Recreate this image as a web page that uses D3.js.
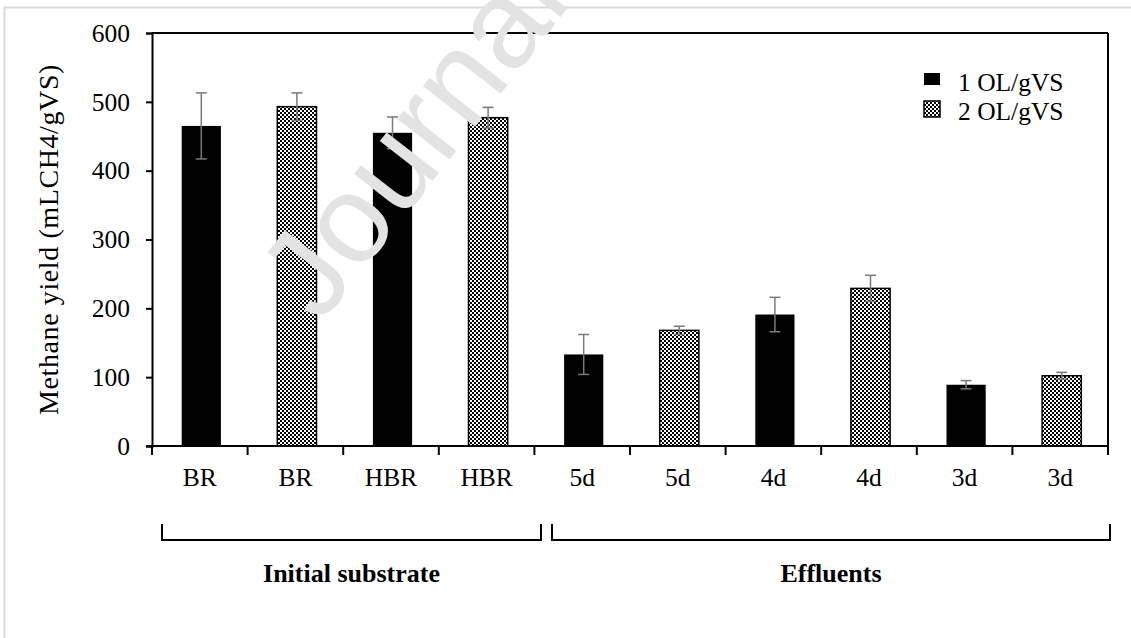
<!DOCTYPE html>
<html><head><meta charset="utf-8">
<script src="https://cdn.jsdelivr.net/npm/d3@7/dist/d3.min.js"></script>
<style>html,body{margin:0;padding:0;background:#fff;overflow:hidden}</style>
</head><body>
<svg id="c" width="1131" height="638"></svg>
<script>
const categories = ["BR","BR","HBR","HBR","5d","5d","4d","4d","3d","3d"];
const seriesOf = [0,1,0,1,0,1,0,1,0,1];
const seriesNames = ["1 OL/gVS","2 OL/gVS"];
const values = [465,493,455,477,133,168,191,229,89,102];
const errors = [48,20,23,15,29,6,25,19,6,5];
const yTicks = [0,100,200,300,400,500,600];
const groups = [{label:"Initial substrate", from:0, to:3},{label:"Effluents", from:4, to:9}];

const svg = d3.select("#c");
const m={l:152,r:1108,t:33,b:446};
const serif="'Liberation Serif','Times New Roman',serif";

// outer frame
svg.append("rect").attr("x",4.5).attr("y",7.5).attr("width",1200).attr("height",800)
  .attr("fill","#fff").attr("stroke","#d9d9d9").attr("stroke-width",2);

const defs=svg.append("defs");
const pat=defs.append("pattern").attr("id","chk").attr("patternUnits","userSpaceOnUse")
  .attr("width",4).attr("height",4);
pat.append("rect").attr("width",4).attr("height",4).attr("fill","#fff");
pat.append("rect").attr("width",2).attr("height",2).attr("fill","#000");
pat.append("rect").attr("x",2).attr("y",2).attr("width",2).attr("height",2).attr("fill","#000");

const x=d3.scaleBand().domain(d3.range(categories.length)).range([m.l,m.r]).padding(0);
const y=d3.scaleLinear().domain([0,600]).range([m.b,m.t]);
const bw=x.bandwidth()*0.41;

// bars
svg.append("g").selectAll("rect").data(values).join("rect")
  .attr("x",(d,i)=>x(i)+x.bandwidth()/2-bw/2+1.5)
  .attr("y",d=>y(d)).attr("width",bw).attr("height",d=>y(0)-y(d))
  .attr("fill",(d,i)=>seriesOf[i]===0?"#000":"url(#chk)")
  .attr("stroke","#000").attr("stroke-width",(d,i)=>seriesOf[i]===0?0:1.5);

// error bars
const eg=svg.append("g").attr("stroke","#7a7a7a").attr("stroke-width",1.5);
values.forEach((v,i)=>{
  const cx=x(i)+x.bandwidth()/2+1.5;
  eg.append("line").attr("x1",cx).attr("x2",cx).attr("y1",y(v+errors[i])).attr("y2",y(v-errors[i]));
  [v+errors[i],v-errors[i]].forEach(e=>eg.append("line").attr("x1",cx-5.5).attr("x2",cx+5.5).attr("y1",y(e)).attr("y2",y(e)));
});

// frame top/right
svg.append("line").attr("x1",m.l).attr("x2",m.r).attr("y1",m.t).attr("y2",m.t).attr("stroke","#000").attr("stroke-width",2);
svg.append("line").attr("x1",m.r).attr("x2",m.r).attr("y1",m.t).attr("y2",m.b).attr("stroke","#000").attr("stroke-width",2);

// y axis
const ya=svg.append("g").attr("transform",`translate(${m.l},0)`)
  .call(d3.axisLeft(y).tickValues(yTicks).tickSize(6).tickPadding(16));
ya.select(".domain").attr("stroke","#000").attr("stroke-width",2);
ya.selectAll(".tick line").attr("stroke","#000").attr("stroke-width",2);
ya.selectAll(".tick text").attr("font-family",serif).attr("font-size",25.5).attr("fill","#000");

// x axis with ticks at band boundaries
const xa=svg.append("g").attr("transform",`translate(0,${m.b})`);
xa.append("line").attr("x1",m.l-6).attr("x2",m.r).attr("stroke","#000").attr("stroke-width",2);
const bounds=d3.range(categories.length+1).map(i=>i<categories.length?x(i):m.r);
xa.selectAll("line.t").data(bounds).join("line").attr("class","t")
  .attr("x1",d=>d).attr("x2",d=>d).attr("y1",0).attr("y2",9).attr("stroke","#000").attr("stroke-width",2);
xa.selectAll("text").data(categories).join("text")
  .attr("x",(d,i)=>x(i)+x.bandwidth()/2).attr("y",40).attr("text-anchor","middle")
  .attr("font-family",serif).attr("font-size",25.5).attr("fill","#000").text(d=>d);

// y label
svg.append("text").attr("transform",`translate(52,${(m.t+m.b)/2}) rotate(-90)`)
  .attr("text-anchor","middle").attr("dominant-baseline","middle")
  .attr("font-family",serif).attr("font-size",28).attr("letter-spacing",0.6).attr("fill","#000").text("Methane yield (mLCH4/gVS)");

// group brackets
const bx0=[162,552], bx1=[541,1110];
groups.forEach((gr,k)=>{
  const a=bx0[k], b=bx1[k];
  svg.append("path").attr("d",`M${a},524 L${a},540 L${b},540 L${b},524`)
    .attr("fill","none").attr("stroke","#000").attr("stroke-width",2);
  svg.append("text").attr("x",(a+b)/2).attr("y",582).attr("text-anchor","middle")
    .attr("font-family",serif).attr("font-weight","bold").attr("font-size",26).attr("fill","#000").text(gr.label);
});

// legend
const lg=svg.append("g");
seriesNames.forEach((s,k)=>{
  const yy=k===0?73:101;
  lg.append("rect").attr("x",924).attr("y",yy).attr("width",16).attr("height",k===0?12:16)
    .attr("fill",k===0?"#000":"url(#chk)").attr("stroke","#000").attr("stroke-width",k===0?0:1.5);
  lg.append("text").attr("x",958).attr("y",k===0?91:120).attr("font-family",serif).attr("font-size",25.5).attr("fill","#000").text(s);
});

// watermark
svg.append("text").attr("transform","translate(320,325) rotate(-52)")
  .attr("font-family","'Liberation Sans',Arial,sans-serif").attr("font-size",125)
  .attr("fill","#e3e3e3").text("Journal Pre-proof");
</script>
</body></html>
